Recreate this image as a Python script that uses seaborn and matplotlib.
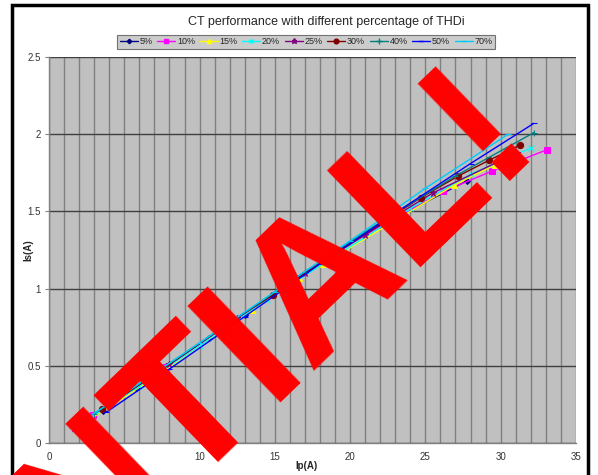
import pandas as pd
import matplotlib.pyplot as plt
import seaborn as sns
from matplotlib.patches import Rectangle
from matplotlib.lines import Line2D

# THDi levels and measured Ip / Is values
labels = ['5%', '10%', '15%', '20%', '25%', '30%', '40%', '50%', '70%']

ip_5 = [3.6, 5.8, 10.6, 13.0, 18.3, 22.0, 27.8]
is_5 = [0.21, 0.36, 0.68, 0.83, 1.19, 1.41, 1.70]

ip_10 = [1.7, 2.9, 7.8, 11.2, 16.4, 18.7, 26.2, 29.4, 33.1]
is_10 = [0.10, 0.18, 0.49, 0.72, 1.07, 1.22, 1.63, 1.76, 1.90]

ip_15 = [2.0, 7.1, 11.6, 13.5, 16.6, 18.2, 26.9, 29.6]
is_15 = [0.11, 0.43, 0.74, 0.86, 1.07, 1.16, 1.67, 1.80]

ip_20 = [2.2, 6.0, 10.0, 14.5, 19.0, 24.0, 28.0, 32.0]
is_20 = [0.13, 0.37, 0.63, 0.93, 1.21, 1.52, 1.74, 1.91]

ip_25 = [4.2, 8.0, 12.5, 17.0, 21.0, 25.5, 31.1]
is_25 = [0.26, 0.51, 0.81, 1.10, 1.35, 1.62, 1.88]

ip_30 = [3.5, 6.5, 12.3, 14.9, 18.7, 24.7, 27.2, 29.2, 31.3]
is_30 = [0.22, 0.41, 0.80, 0.96, 1.21, 1.59, 1.73, 1.83, 1.93]

ip_40 = [3.0, 7.0, 12.0, 17.0, 22.0, 27.0, 32.2]
is_40 = [0.19, 0.45, 0.78, 1.11, 1.43, 1.73, 2.01]

ip_50 = [3.8, 8.0, 13.0, 18.0, 23.0, 28.0, 32.2]
is_50 = [0.20, 0.48, 0.82, 1.16, 1.49, 1.81, 2.07]

ip_70 = [1.5, 5.0, 10.0, 15.0, 20.0, 25.0, 30.5]
is_70 = [0.10, 0.32, 0.65, 0.98, 1.31, 1.65, 2.00]

ip_all = [ip_5, ip_10, ip_15, ip_20, ip_25, ip_30, ip_40, ip_50, ip_70]
is_all = [is_5, is_10, is_15, is_20, is_25, is_30, is_40, is_50, is_70]

colors = ['#000080', '#FF00FF', '#FFFF00', '#00FFFF', '#800080',
          '#800000', '#008080', '#0000FF', '#00CCFF']
markers = ['D', 's', '^', 'x', '*', 'o', '+', '_', '_']
msizes = [3, 4, 4, 4, 5, 4.5, 5, 4, 4]

rows = []
for lab, xs, ys in zip(labels, ip_all, is_all):
    for i, (x, y) in enumerate(zip(xs, ys)):
        rows.append({'THDi': lab, 'Ip': x, 'Is': y, 'n': i})
df = pd.DataFrame(rows)

sns.set_style('whitegrid', {'axes.facecolor': '#C0C0C0'})
plt.rcParams['font.family'] = ['Liberation Sans', 'DejaVu Sans']

fig = plt.figure(figsize=(5.98, 4.75), dpi=100)
ax = fig.add_axes([0.082, 0.067, 0.881, 0.813])

for lab, c, m, ms in zip(labels, colors, markers, msizes):
    sub = df[df['THDi'] == lab]
    sns.lineplot(data=sub, x='Ip', y='Is', sort=False, color=c, marker=m,
                 markersize=ms, markeredgecolor=c, linewidth=1.0, ax=ax,
                 legend=False)

ax.set_xlim(0, 35)
ax.set_ylim(0, 2.5)
ax.set_xticks(range(0, 36, 5))
ax.set_xticks(range(0, 36, 1), minor=True)
ax.set_yticks([0, 0.5, 1, 1.5, 2, 2.5])
ax.set_yticklabels(['0', '0.5', '1', '1.5', '2', '2.5'])
ax.grid(False)
ax.grid(True, which='both', axis='x', color='#808080', linewidth=1.0)
ax.grid(True, which='major', axis='y', color='#404040', linewidth=1.0)
ax.set_axisbelow(True)
ax.tick_params(axis='both', labelsize=7, colors='#333333', length=0, pad=6)
ax.tick_params(axis='y', length=3, color='#808080', left=True, pad=3)
for s in ['top', 'right']:
    ax.spines[s].set_visible(False)
for s in ['left', 'bottom']:
    ax.spines[s].set_color('#808080')
    ax.spines[s].set_linewidth(1.0)

ax.set_xlabel('Ip(A)', fontsize=7, fontweight='bold')
ax.xaxis.set_label_coords(0.488, -0.045)
ax.set_ylabel('Is(A)', fontsize=7, fontweight='bold')
ax.yaxis.set_label_coords(-0.03, 0.5)

fig.text(0.545, 0.954, 'CT performance with different percentage of THDi',
         ha='center', va='center', fontsize=9)

handles = [Line2D([], [], color=c, marker=m, markersize=ms * 0.75,
                  markeredgecolor=c, linewidth=1.0)
           for c, m, ms in zip(colors, markers, msizes)]
leg = fig.legend(handles, labels, loc='center', bbox_to_anchor=(0.512, 0.912),
                 ncol=9, fontsize=6.5, frameon=True, fancybox=False,
                 handlelength=2.0, handletextpad=0.2, columnspacing=0.5,
                 borderpad=0.25)
leg.get_frame().set_edgecolor('#555555')
leg.get_frame().set_linewidth(0.8)

fig.patches.append(Rectangle((12 / 598, -0.1), 576 / 598, 1.089,
                             transform=fig.transFigure, fill=False,
                             edgecolor='black', linewidth=2.5))

# red watermark over the plot
fig.text(0.905, 0.70, 'CONFIDENTIAL!', rotation=44, rotation_mode='anchor',
         ha='right', va='baseline', fontsize=140, fontweight='bold',
         fontstretch='condensed', color='#FF0000', zorder=10)

fig.savefig('out.png', dpi=100)
